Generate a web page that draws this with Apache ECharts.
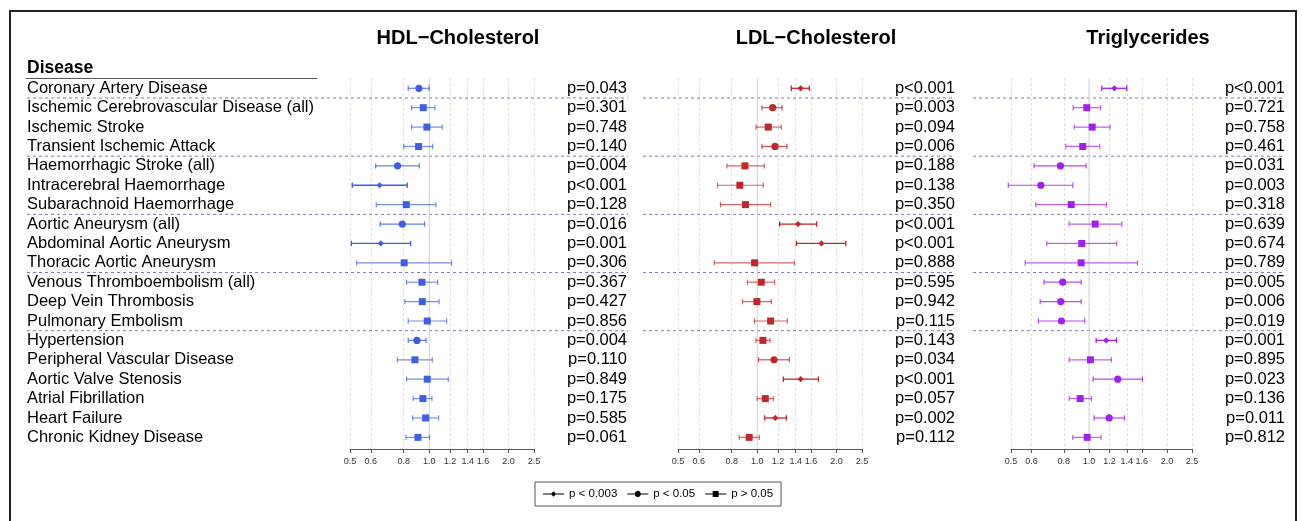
<!DOCTYPE html>
<html><head><meta charset="utf-8">
<script src="https://cdn.jsdelivr.net/npm/echarts@6/dist/echarts.min.js"></script>
<style>html,body{margin:0;padding:0;background:#fff}#c{width:1302px;height:521px}</style>
</head><body><div id="c"></div><script>
// ---------- DATA ----------
const diseases = [
  'Coronary Artery Disease','Ischemic Cerebrovascular Disease (all)','Ischemic Stroke','Transient Ischemic Attack',
  'Haemorrhagic Stroke (all)','Intracerebral Haemorrhage','Subarachnoid Haemorrhage',
  'Aortic Aneurysm (all)','Abdominal Aortic Aneurysm','Thoracic Aortic Aneurysm',
  'Venous Thromboembolism (all)','Deep Vein Thrombosis','Pulmonary Embolism',
  'Hypertension','Peripheral Vascular Disease','Aortic Valve Stenosis','Atrial Fibrillation','Heart Failure','Chronic Kidney Disease'
];
const panelTitles = ['HDL\u2212Cholesterol','LDL\u2212Cholesterol','Triglycerides'];
const groupEnds = [1,4,7,10,13];
const tickValues = [0.5,0.6,0.8,1.0,1.2,1.4,1.6,2.0,2.5];
const legendLabels = ['p < 0.003','p < 0.05','p > 0.05'];

const hdlEst = [0.914,0.949,0.980,0.911,0.758,0.648,0.818,0.790,0.654,0.803,0.938,0.941,0.983,0.898,0.882,0.983,0.946,0.969,0.906];
const hdlLo  = [0.832,0.857,0.857,0.800,0.626,0.510,0.629,0.651,0.506,0.530,0.820,0.808,0.832,0.832,0.756,0.820,0.869,0.865,0.816];
const hdlHi  = [1.000,1.051,1.120,1.030,0.916,0.825,1.060,0.960,0.850,1.216,1.076,1.090,1.165,0.972,1.027,1.181,1.024,1.086,1.003];
const hdlP = ['p=0.043','p=0.301','p=0.748','p=0.140','p=0.004','p<0.001','p=0.128','p=0.016','p=0.001','p=0.306','p=0.367','p=0.427','p=0.856','p=0.004','p=0.110','p=0.849','p=0.175','p=0.585','p=0.061'];

const ldlEst = [1.462,1.144,1.101,1.168,0.898,0.859,0.902,1.429,1.753,0.977,1.036,0.997,1.124,1.051,1.158,1.462,1.073,1.171,0.932];
const ldlLo  = [1.347,1.042,0.989,1.042,0.767,0.706,0.725,1.216,1.408,0.686,0.918,0.879,0.977,0.989,1.011,1.256,1.000,1.066,0.854];
const ldlHi  = [1.578,1.242,1.234,1.297,1.063,1.054,1.124,1.682,2.170,1.383,1.164,1.131,1.301,1.118,1.324,1.708,1.151,1.290,1.018];
const ldlP = ['p<0.001','p=0.003','p=0.094','p=0.006','p=0.188','p=0.138','p=0.350','p<0.001','p<0.001','p=0.888','p=0.595','p=0.942','p=0.115','p=0.143','p=0.034','p<0.001','p=0.057','p=0.002','p=0.112'];

const tgEst = [1.254,0.981,1.029,0.946,0.776,0.652,0.854,1.057,0.938,0.933,0.792,0.778,0.783,1.165,1.013,1.292,0.925,1.197,0.984];
const tgLo  = [1.121,0.869,0.877,0.814,0.614,0.488,0.623,0.839,0.687,0.567,0.671,0.648,0.638,1.066,0.839,1.038,0.839,1.047,0.866];
const tgHi  = [1.399,1.108,1.207,1.101,0.975,0.866,1.168,1.339,1.280,1.539,0.933,0.933,0.963,1.277,1.221,1.609,1.022,1.371,1.114];
const tgP = ['p<0.001','p=0.721','p=0.758','p=0.461','p=0.031','p=0.003','p=0.318','p=0.639','p=0.674','p=0.789','p=0.005','p=0.006','p=0.019','p=0.001','p=0.895','p=0.023','p=0.136','p=0.011','p=0.812'];

// ---------- LAYOUT / STYLE ----------
const FONT = "'Liberation Sans', Arial, Helvetica, sans-serif";
const panels = [
  {est: hdlEst, lo: hdlLo, hi: hdlHi, p: hdlP, color: '#3F5FE3', left: 350, width: 184, wl: 27,  wr: 628,  tx: 458},
  {est: ldlEst, lo: ldlLo, hi: ldlHi, p: ldlP, color: '#C0262C', left: 678, width: 184, wl: 643, wr: 955,  tx: 816},
  {est: tgEst,  lo: tgLo,  hi: tgHi,  p: tgP,  color: '#A020F0', left: 1011, width: 181, wl: 973, wr: 1285, tx: 1148}
];
const TOP = 78.6, BOTTOM = 72, YMIN = 0.5, YMAX = 19.6;
const rows = diseases.map((_, i) => i + 1);

function markerType(p) {
  if (p.indexOf('<') >= 0) return 0;
  const v = parseFloat(p.slice(2));
  return v < 0.003 ? 0 : (v < 0.05 ? 1 : 2);
}

const grid = [], xAxis = [], yAxis = [], series = [];
panels.forEach((pn, k) => {
  grid.push({left: pn.left, width: pn.width, top: TOP, bottom: BOTTOM});
  grid.push({left: pn.wl, width: pn.wr - pn.wl, top: TOP, bottom: BOTTOM});
  xAxis.push({
    type: 'log', logBase: 10, gridIndex: 2 * k, min: 0.5, max: 2.5,
    axisLine: {show: true, lineStyle: {color: '#555', width: 1}},
    axisTick: {show: true, customValues: tickValues, length: 4, lineStyle: {color: '#555'}},
    axisLabel: {customValues: tickValues, formatter: v => Number(v).toFixed(1), fontSize: 9, color: '#333', margin: 8, fontFamily: FONT},
    splitLine: {show: true, lineStyle: {type: [2, 3], color: '#d4d4d4', width: 1}}
  });
  xAxis.push({type: 'value', gridIndex: 2 * k + 1, min: 0, max: 1, show: false});
  yAxis.push({
    type: 'value', gridIndex: 2 * k, inverse: true, min: YMIN, max: YMAX,
    axisLine: {show: false}, axisTick: {show: false}, splitLine: {show: false},
    axisLabel: k === 0 ? {show: true, customValues: rows, formatter: v => diseases[Math.round(v) - 1],
      align: 'left', margin: pn.left - 27, fontSize: 16.5, color: '#000', fontFamily: FONT} : {show: false}
  });
  yAxis.push({
    type: 'value', gridIndex: 2 * k, position: 'right', inverse: true, min: YMIN, max: YMAX,
    axisLine: {show: false}, axisTick: {show: false}, splitLine: {show: false},
    axisLabel: {show: true, customValues: rows, formatter: v => pn.p[Math.round(v) - 1],
      align: 'right', margin: 93, fontSize: 16.5, color: '#000', fontFamily: FONT}
  });
  yAxis.push({type: 'value', gridIndex: 2 * k + 1, inverse: true, min: YMIN, max: YMAX, show: false});

  // group separators (dashed)
  series.push({
    type: 'custom', xAxisIndex: 2 * k + 1, yAxisIndex: 3 * k + 2, z: 1, silent: true,
    data: groupEnds.map(g => [0, g + 0.5]), encode: {x: 0, y: 1},
    renderItem: (params, api) => {
      const a = api.coord([0, api.value(1)]), b = api.coord([1, api.value(1)]);
      return {type: 'line', shape: {x1: a[0], y1: a[1], x2: b[0], y2: b[1]},
        style: {stroke: '#7a7ab2', lineWidth: 1, lineDash: [3, 3]}};
    }
  });
  // reference line at 1.0
  series.push({
    type: 'custom', xAxisIndex: 2 * k, yAxisIndex: 3 * k, z: 2, silent: true,
    data: [[1, YMIN]], encode: {x: 0, y: 1},
    renderItem: (params, api) => {
      const a = api.coord([api.value(0), YMIN]), b = api.coord([api.value(0), YMAX]);
      return {type: 'line', shape: {x1: a[0], y1: a[1], x2: b[0], y2: b[1]},
        style: {stroke: '#d6d6d6', lineWidth: 1}};
    }
  });
  // estimates with CI
  series.push({
    type: 'custom', xAxisIndex: 2 * k, yAxisIndex: 3 * k, z: 3, clip: false,
    data: rows.map(r => [pn.est[r - 1], r, pn.lo[r - 1], pn.hi[r - 1], markerType(pn.p[r - 1])]),
    encode: {x: [0, 2, 3], y: 1},
    renderItem: (params, api) => {
      const r = api.value(1), t = api.value(4);
      const pe = api.coord([api.value(0), r]);
      const pl = api.coord([api.value(2), r]);
      const ph = api.coord([api.value(3), r]);
      const op = t === 0 ? 1 : (t === 1 ? 0.8 : 0.7);
      const lw = t === 0 ? 1.3 : 1.2;
      const cap = 2.7;
      const lineStyle = {stroke: pn.color, lineWidth: lw, opacity: op};
      const ch = [
        {type: 'line', shape: {x1: pl[0], y1: pl[1], x2: ph[0], y2: ph[1]}, style: lineStyle},
        {type: 'line', shape: {x1: pl[0], y1: pl[1] - cap, x2: pl[0], y2: pl[1] + cap}, style: lineStyle},
        {type: 'line', shape: {x1: ph[0], y1: ph[1] - cap, x2: ph[0], y2: ph[1] + cap}, style: lineStyle}
      ];
      if (t === 0) {
        const s = 3.1;
        ch.push({type: 'polygon', shape: {points: [[pe[0], pe[1] - s], [pe[0] + s, pe[1]], [pe[0], pe[1] + s], [pe[0] - s, pe[1]]]},
          style: {fill: pn.color}});
      } else if (t === 1) {
        ch.push({type: 'circle', shape: {cx: pe[0], cy: pe[1], r: 3.6}, style: {fill: pn.color}});
      } else {
        const s = 3.5;
        ch.push({type: 'rect', shape: {x: pe[0] - s, y: pe[1] - s, width: 2 * s, height: 2 * s}, style: {fill: pn.color}});
      }
      return {type: 'group', children: ch};
    }
  });
});

// legend dummy series
const legendIcons = [
  'path://M0 3.1L8 3.1L8 3.9L0 3.9ZM13 3.1L21 3.1L21 3.9L13 3.9ZM10.5 0.8L13.2 3.5L10.5 6.2L7.8 3.5Z',
  'path://M0 3.1L7.4 3.1L7.4 3.9L0 3.9ZM13.6 3.1L21 3.1L21 3.9L13.6 3.9ZM10.5 0.3L12.76 1.24L13.7 3.5L12.76 5.76L10.5 6.7L8.24 5.76L7.3 3.5L8.24 1.24Z',
  'path://M0 3.1L7.6 3.1L7.6 3.9L0 3.9ZM13.4 3.1L21 3.1L21 3.9L13.4 3.9ZM7.5 0.5L13.5 0.5L13.5 6.5L7.5 6.5Z'
];
legendLabels.forEach(name => {
  series.push({type: 'line', name: name, xAxisIndex: 0, yAxisIndex: 0, data: [], color: '#000',
    itemStyle: {color: '#000'}, lineStyle: {color: '#000'}});
});

const graphic = [
  {type: 'rect', shape: {x: 10, y: 11, width: 1286, height: 540}, style: {fill: 'none', stroke: '#222', lineWidth: 2}, silent: true},
  {type: 'text', x: 27, y: 68, style: {text: 'Disease', font: "bold 17.5px " + FONT, fill: '#000', verticalAlign: 'middle', align: 'left'}},
  {type: 'line', shape: {x1: 26, y1: 78.5, x2: 317, y2: 78.5}, style: {stroke: '#555', lineWidth: 1}}
];
panels.forEach((pn, k) => {
  graphic.push({type: 'text', x: pn.tx, y: 38, style: {text: panelTitles[k], font: "bold 20px " + FONT, fill: '#000', align: 'center', verticalAlign: 'middle'}});
});

const chart = echarts.init(document.getElementById('c'), null, {renderer: 'canvas'});
chart.setOption({
  animation: false,
  backgroundColor: '#fff',
  textStyle: {fontFamily: FONT},
  grid, xAxis, yAxis, series, graphic,
  legend: {
    show: true, left: 535, top: 482, orient: 'horizontal',
    padding: [6, 8], itemGap: 10, itemWidth: 21, itemHeight: 7,
    borderColor: '#555', borderWidth: 1, selectedMode: false,
    textStyle: {fontSize: 11.5, color: '#000', fontFamily: FONT},
    data: legendLabels.map((n, i) => ({name: n, icon: legendIcons[i]}))
  }
});
</script></body></html>
